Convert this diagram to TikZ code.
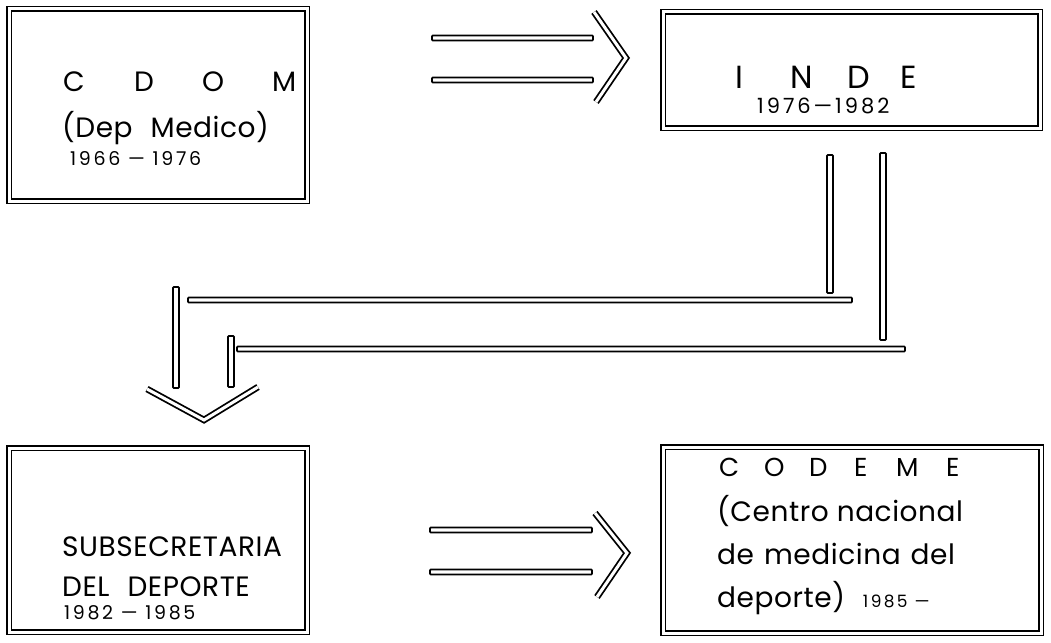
\documentclass[tikz,border=0pt]{standalone}
\usepackage{fontspec}
\setmainfont{Poppins}[LetterSpace=2]
\newfontfamily\yrfont{Poppins}[LetterSpace=14]
\newcommand{\spl}[2]{\makebox[#1][l]{#2}}
\begin{document}
\begin{tikzpicture}[x=1pt,y=-1pt,
  dbox/.style={draw, line width=1.6pt, double, double distance=3pt, inner sep=0pt},
  txt/.style={anchor=base west, inner sep=0pt, font=\fontsize{28}{30}\selectfont},
  ttl/.style={anchor=base west, inner sep=0pt, font=\fontsize{28}{30}\selectfont},
  yr/.style={anchor=base west, inner sep=0pt},
  bar/.style={draw, line width=1.7pt, rounded corners=0.8pt},
  chev/.style={draw, line width=1.8pt, double, double distance=3pt, miter limit=10}]
\useasboundingbox (0,0) rectangle (1051,642);
% boxes
\node[dbox, minimum width=298pt, minimum height=192pt] (cdom) at (158,105) {};
\node[dbox, minimum width=377pt, minimum height=116pt] (inde) at (851.5,70) {};
\node[dbox, minimum width=298pt, minimum height=184pt] (subs) at (158,540) {};
\node[dbox, minimum width=378pt, minimum height=186pt] (codeme) at (852,540) {};
% texts
\node[ttl] (t1) at (63,91) {\spl{71pt}{C}\spl{68pt}{D}\spl{70pt}{O}M};
\node[txt] (t2) at (62,137) {(Dep\hspace{18pt}Medico)};
\node[yr, font=\yrfont\fontsize{19}{20}\selectfont] (t3) at (70,165) {1966 — 1976};
\node[ttl, font=\fontsize{32}{32}\selectfont] (t4) at (735,88) {\spl{55pt}{I}\spl{57pt}{N}\spl{53pt}{D}E};
\node[yr, font=\yrfont\fontsize{21}{22}\selectfont] (t5) at (757,113) {1976—1982};
\node[txt] (t6) at (62,556) {SUBSECRETARIA};
\node[txt] (t7) at (62,596) {DEL\hspace{18pt}DEPORTE};
\node[yr, font=\yrfont\fontsize{19}{20}\selectfont] (t8) at (64,619) {1982 — 1985};
\node[ttl, font=\fontsize{26}{28}\selectfont] (t9) at (719,476) {\spl{45pt}{C}\spl{45pt}{O}\spl{45pt}{D}\spl{42pt}{E}\spl{50pt}{M}E};
\node[txt] (t10) at (717,521) {(Centro nacional};
\node[txt] (t11) at (717,564) {de\hspace{10pt}medicina\hspace{10pt}del};
\node[txt] (t12) at (717,607) {deporte)\hspace{18pt}{\yrfont\fontsize{17}{18}\selectfont 1985 —}};
% top double arrow
\draw[bar] (432,35.5) rectangle (593,40.5);
\draw[bar] (432,77.5) rectangle (593,82.5);
\draw[chev] (594,12) -- (626,58) -- (596,102);
% vertical bars from INDE
\draw[bar] (827,155) rectangle (833,293);
\draw[bar] (880,153) rectangle (886,340);
% horizontal bars
\draw[bar] (188,297.5) rectangle (852,302.5);
\draw[bar] (237,346.5) rectangle (905,351.5);
% left vertical bars
\draw[bar] (173,287) rectangle (179,388);
\draw[bar] (228,336) rectangle (234,387);
% down chevron
\draw[chev] (147,389) -- (204,420) -- (258,387);
% bottom double arrow
\draw[bar] (430,527.5) rectangle (592,532.5);
\draw[bar] (430,569.5) rectangle (592,574.5);
\draw[chev] (595,513) -- (627,553) -- (597,597);
\end{tikzpicture}
\end{document}
